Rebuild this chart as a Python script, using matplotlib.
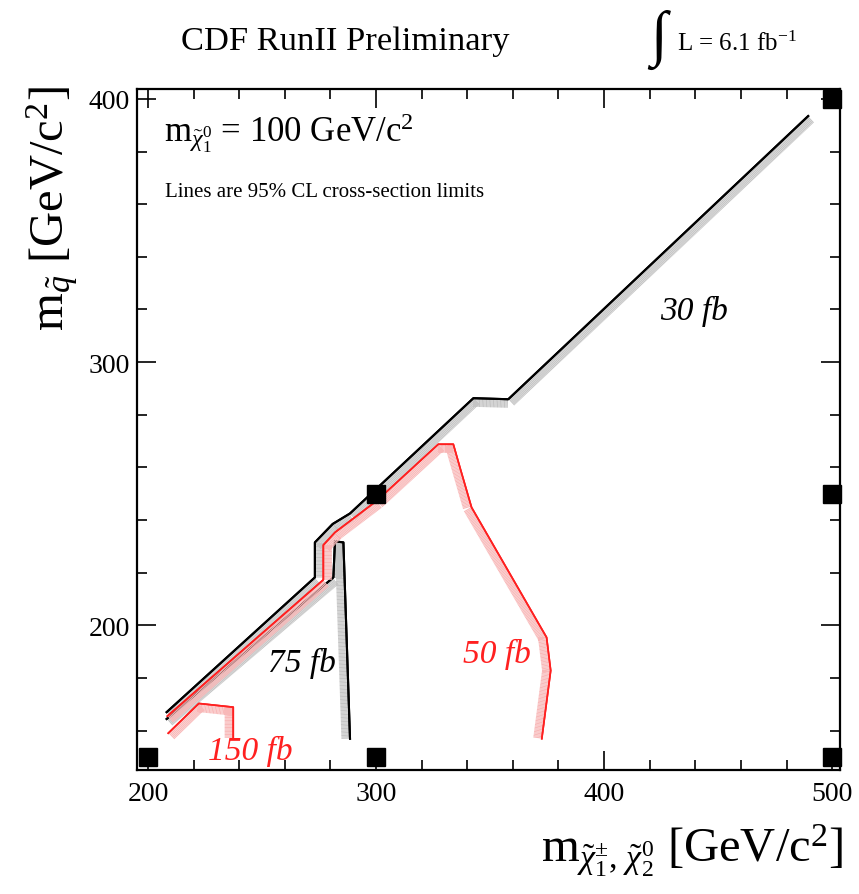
import numpy as np
import matplotlib
matplotlib.use("Agg")
import matplotlib.pyplot as plt
import matplotlib.patheffects as pe

plt.rcParams['font.family'] = ['Liberation Serif', 'DejaVu Serif']
plt.rcParams['mathtext.fontset'] = 'custom'
plt.rcParams['mathtext.rm'] = 'Liberation Serif'
plt.rcParams['mathtext.it'] = 'Liberation Serif:italic'
plt.rcParams['mathtext.bf'] = 'Liberation Serif:bold'

# 95% CL cross-section limit contours (m_chargino, m_squark)
x_30fb = [208.2, 273.2, 273.2, 281.0, 288.6, 342.7, 358.0, 489.5]
y_30fb = [167.0, 218.2, 231.5, 238.5, 242.5, 286.3, 285.9, 393.5]

x_50fb = [208.5, 276.9, 276.9, 282.0, 300.3, 327.3, 333.9, 336.8, 341.9, 374.8, 376.6, 372.7]
y_50fb = [165.5, 217.3, 230.5, 235.3, 247.3, 268.8, 268.8, 260.0, 244.8, 195.4, 182.8, 156.9]

x_75fb = [208.2, 281.3, 282.0, 285.7, 288.6]
y_75fb = [164.4, 218.2, 231.9, 231.5, 156.9]

x_150fb = [208.9, 222.3, 237.4, 237.4]
y_150fb = [159.0, 170.3, 168.9, 157.2]

# signal points
pts_x = [200, 300, 500, 300, 500, 500]
pts_y = [150, 150, 150, 250, 250, 400]

fig = plt.figure(figsize=(8.59, 8.95), dpi=100)
ax = fig.add_axes([0.1595, 0.1385, 0.8185, 0.761])


def band(color):
    return [pe.withTickedStroke(angle=-90, spacing=1.0, length=5.8,
                                foreground=color, linewidth=0.8),
            pe.Normal()]


ax.plot(x_30fb, y_30fb, color='black', lw=1.5, path_effects=band('#c4c4c4'))
ax.plot(x_75fb, y_75fb, color='black', lw=1.5, path_effects=band('#c4c4c4'))
ax.plot(x_50fb, y_50fb, color='#ff2020', lw=1.2, path_effects=band('#f8b8b8'))
ax.plot(x_150fb, y_150fb, color='#ff2020', lw=1.2, path_effects=band('#f8b8b8'))

ax.plot(pts_x, pts_y, 's', color='black', ms=13, ls='none', clip_on=False, zorder=5)

ax.text(439.5, 319.5, '30 fb', fontsize=24, style='italic', color='black', ha='center', va='center')
ax.text(267.5, 186, '75 fb', fontsize=24, style='italic', color='black', ha='center', va='center')
ax.text(353, 189.4, '50 fb', fontsize=24, style='italic', color='#ff2020', ha='center', va='center')
ax.text(244.7, 152.6, '150 fb', fontsize=24, style='italic', color='#ff2020', ha='center', va='center')

ax.text(0.038, 0.937, r'm$_{\tilde{\chi}^0_1}$ = 100 GeV/c$^2$', transform=ax.transAxes,
        fontsize=25, ha='left', va='center')
ax.text(0.040, 0.85, 'Lines are 95% CL cross-section limits', transform=ax.transAxes,
        fontsize=15, ha='left', va='center')

ax.set_xlim(195.2, 503.5)
ax.set_ylim(145, 403.8)
ax.set_xticks([200, 300, 400, 500])
ax.set_yticks([200, 300, 400])
ax.set_xticks(np.arange(200, 501, 20), minor=True)
ax.set_yticks(np.arange(160, 401, 20), minor=True)
ax.tick_params(which='both', direction='in', top=True, right=True, labelsize=20, width=1.2)
ax.tick_params(which='major', length=14)
ax.tick_params(which='minor', length=7)
ax.tick_params(axis='x', which='major', pad=8)
ax.tick_params(axis='y', which='major', pad=5)
for s in ax.spines.values():
    s.set_linewidth(1.6)

# axis titles
fig.text(843 / 859, 1 - 863 / 895, r'm$_{\tilde{\chi}^{\pm}_1,\,\tilde{\chi}^0_2}$ [GeV/c$^2$]',
         fontsize=35, ha='right', va='baseline')
fig.text(52 / 859, 1 - 86 / 895, r'm$_{\tilde{q}}$ [GeV/c$^2$]',
         fontsize=35, rotation=90, ha='center', va='top')

fig.text(0.402, 0.953, 'CDF RunII Preliminary', fontsize=24.8, ha='center', va='center')
fig.text(0.768, 0.955, r'$\int$', fontsize=44, ha='center', va='center')
fig.text(0.788, 0.951, r'L = 6.1 fb$^{-1}$', fontsize=18, ha='left', va='center')

fig.savefig('out.png', dpi=100)
